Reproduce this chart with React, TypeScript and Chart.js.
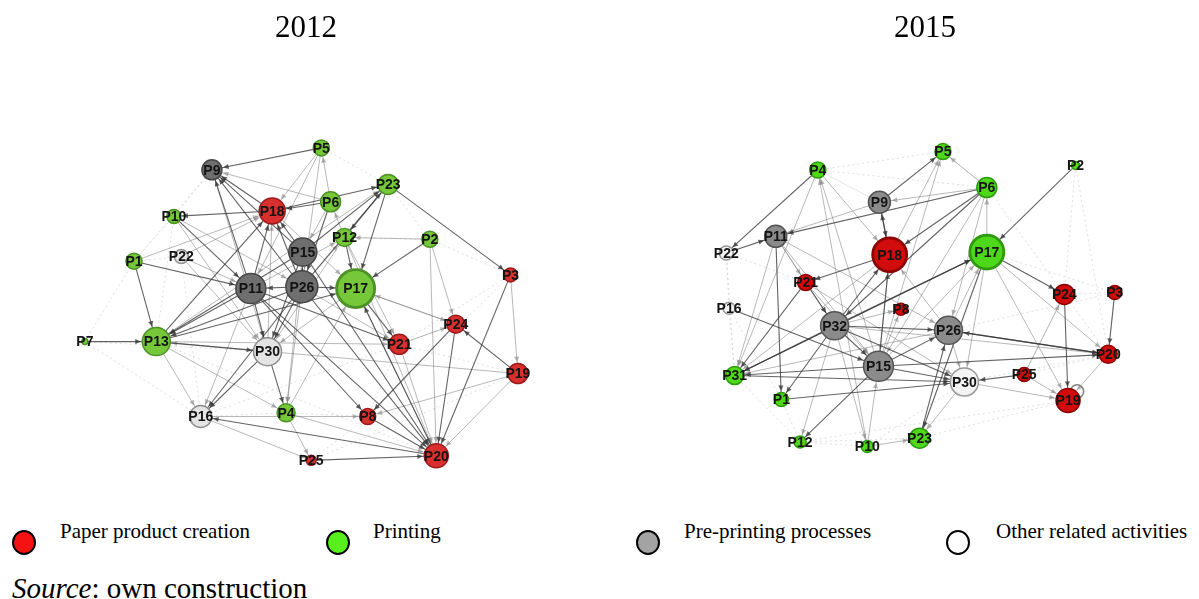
import React, { useEffect, useRef } from "react";
import { Chart, registerables } from "chart.js";

Chart.register(...registerables);

// ---- 2012 network ----
const ids2012 = ["P9", "P5", "P18", "P6", "P10", "P1", "P22", "P15", "P11", "P26", "P12", "P23", "P17", "P2", "P3", "P7", "P13", "P30", "P16", "P4", "P25", "P24", "P21", "P19", "P8", "P20"];
const posX2012 = [205, 323, 270, 333, 164, 121, 172, 303, 247, 302, 348, 395, 360, 440, 527, 68, 145, 265, 193, 285, 312, 468, 407, 535, 373, 447];
const posY2012 = [162, 138, 207, 197, 213, 262, 257, 252, 292, 290, 236, 178, 292, 238, 277, 350, 350, 361, 432, 428, 480, 331, 353, 385, 432, 475];
const size2012 = [10, 8, 13, 10, 7, 8, 7, 14, 15, 16, 9, 10, 19, 8, 7, 3, 14, 14, 11, 9, 5, 9, 10, 10, 8, 12];
const group2012 = ["pre", "print", "paper", "print", "print", "print", "other", "pre", "pre", "pre", "print", "print", "print", "print", "paper", "print", "print", "other", "other", "print", "paper", "paper", "paper", "paper", "paper", "paper"];

const strong2012: [string, string][] = [
  ["P5", "P9"], ["P18", "P9"], ["P11", "P9"], ["P26", "P9"], ["P15", "P9"], ["P18", "P10"],
  ["P10", "P11"], ["P1", "P11"], ["P11", "P18"], ["P26", "P18"], ["P15", "P18"], ["P6", "P18"],
  ["P13", "P18"], ["P18", "P23"], ["P6", "P26"], ["P23", "P17"], ["P26", "P23"], ["P15", "P23"],
  ["P23", "P3"], ["P12", "P17"], ["P26", "P15"], ["P26", "P11"], ["P26", "P17"], ["P11", "P30"],
  ["P26", "P30"], ["P15", "P30"], ["P11", "P21"], ["P26", "P20"], ["P11", "P20"], ["P11", "P8"],
  ["P17", "P21"], ["P20", "P17"], ["P3", "P20"], ["P19", "P24"], ["P24", "P8"], ["P24", "P20"],
  ["P7", "P13"], ["P13", "P30"], ["P30", "P16"], ["P26", "P16"], ["P11", "P13"], ["P26", "P13"],
  ["P1", "P13"], ["P25", "P20"], ["P8", "P20"], ["P30", "P4"], ["P15", "P13"], ["P2", "P17"],
  ["P15", "P20"], ["P23", "P12"], ["P13", "P17"], ["P20", "P16"],
];
const medium2012: [string, string][] = [
  ["P6", "P9"], ["P10", "P30"], ["P22", "P18"], ["P22", "P30"], ["P30", "P18"], ["P5", "P11"],
  ["P5", "P26"], ["P6", "P5"], ["P6", "P15"], ["P12", "P6"], ["P13", "P23"], ["P11", "P12"],
  ["P26", "P12"], ["P12", "P30"], ["P26", "P21"], ["P17", "P24"], ["P2", "P20"], ["P3", "P19"],
  ["P24", "P17"], ["P19", "P20"], ["P19", "P8"], ["P19", "P13"], ["P13", "P16"], ["P13", "P4"],
  ["P13", "P21"], ["P16", "P8"], ["P4", "P25"], ["P21", "P20"], ["P4", "P17"], ["P11", "P16"],
  ["P17", "P30"], ["P21", "P24"], ["P16", "P25"], ["P4", "P20"], ["P12", "P20"], ["P17", "P20"],
  ["P15", "P4"], ["P26", "P4"], ["P2", "P12"], ["P5", "P18"], ["P10", "P26"], ["P9", "P30"],
  ["P22", "P11"], ["P18", "P17"], ["P2", "P24"], ["P12", "P21"], ["P1", "P18"],
];
const faint2012: [string, string][] = [
  ["P1", "P10"], ["P7", "P1"], ["P10", "P13"], ["P9", "P10"], ["P2", "P3"], ["P16", "P4"],
  ["P25", "P8"], ["P7", "P16"], ["P1", "P22"], ["P13", "P20"], ["P19", "P21"], ["P4", "P8"],
  ["P16", "P21"], ["P22", "P16"], ["P12", "P2"], ["P5", "P23"], ["P3", "P21"], ["P24", "P21"],
  ["P9", "P1"], ["P7", "P30"], ["P23", "P2"], ["P8", "P21"], ["P3", "P8"], ["P19", "P25"],
];
const loops2012: string[] = [];

// ---- 2015 network ----
const ids2015 = ["P4", "P5", "P9", "P11", "P22", "P18", "P21", "P16", "P8", "P6", "P2", "P17", "P24", "P3", "P32", "P26", "P31", "P15", "P1", "P12", "P10", "P23", "P30", "P25", "P20", "P19"];
const posX2015 = [212, 346, 278, 167, 114, 289, 199, 117, 301, 393, 488, 393, 476, 530, 230, 352, 123, 277, 173, 193, 265, 321, 369, 433, 523, 480];
const posY2015 = [163, 143, 198, 235, 253, 255, 285, 313, 314, 182, 158, 252, 298, 296, 332, 337, 386, 376, 412, 458, 463, 454, 393, 385, 363, 413];
const size2015 = [8, 8, 11, 11, 7, 17, 8, 6, 6, 10, 4, 17, 10, 7, 14, 14, 9, 15, 7, 6, 6, 10, 14, 7, 9, 12];
const group2015 = ["print", "print", "pre", "pre", "other", "paper", "paper", "other", "paper", "print", "print", "print", "paper", "paper", "pre", "pre", "print", "pre", "print", "print", "print", "print", "other", "paper", "paper", "paper"];

const strong2015: [string, string][] = [
  ["P4", "P22"], ["P9", "P5"], ["P6", "P11"], ["P6", "P18"], ["P6", "P32"], ["P2", "P17"],
  ["P9", "P18"], ["P18", "P9"], ["P18", "P21"], ["P32", "P18"], ["P15", "P18"], ["P22", "P11"],
  ["P11", "P1"], ["P21", "P32"], ["P32", "P17"], ["P17", "P24"], ["P31", "P17"], ["P17", "P23"],
  ["P32", "P31"], ["P32", "P1"], ["P32", "P26"], ["P32", "P15"], ["P15", "P31"], ["P15", "P26"],
  ["P15", "P30"], ["P15", "P12"], ["P26", "P20"], ["P20", "P26"], ["P23", "P26"], ["P25", "P30"],
  ["P24", "P19"], ["P3", "P20"], ["P31", "P30"], ["P1", "P30"], ["P16", "P15"], ["P21", "P31"],
  ["P32", "P30"], ["P15", "P20"],
];
const medium2015: [string, string][] = [
  ["P4", "P18"], ["P10", "P4"], ["P15", "P4"], ["P18", "P5"], ["P15", "P5"], ["P6", "P5"],
  ["P6", "P9"], ["P6", "P26"], ["P17", "P6"], ["P9", "P11"], ["P26", "P18"], ["P18", "P31"],
  ["P11", "P21"], ["P11", "P31"], ["P11", "P15"], ["P21", "P15"], ["P15", "P17"], ["P26", "P17"],
  ["P17", "P20"], ["P17", "P19"], ["P32", "P12"], ["P32", "P10"], ["P32", "P8"], ["P32", "P20"],
  ["P15", "P8"], ["P10", "P15"], ["P26", "P30"], ["P26", "P31"], ["P30", "P19"], ["P25", "P24"],
  ["P20", "P19"], ["P10", "P23"], ["P30", "P23"], ["P18", "P15"], ["P11", "P26"], ["P4", "P31"],
  ["P21", "P30"], ["P17", "P31"], ["P17", "P30"], ["P25", "P19"], ["P11", "P32"], ["P6", "P15"],
];
const faint2015: [string, string][] = [
  ["P4", "P5"], ["P4", "P9"], ["P4", "P6"], ["P2", "P24"], ["P24", "P3"], ["P22", "P16"],
  ["P16", "P31"], ["P12", "P10"], ["P12", "P23"], ["P20", "P3"], ["P25", "P20"], ["P17", "P3"],
  ["P30", "P20"], ["P1", "P12"], ["P31", "P12"], ["P24", "P25"], ["P26", "P3"], ["P10", "P30"],
  ["P23", "P19"], ["P22", "P21"], ["P16", "P1"], ["P5", "P6"], ["P2", "P20"], ["P9", "P4"],
  ["P17", "P24"], ["P24", "P20"], ["P6", "P24"], ["P22", "P31"], ["P12", "P19"],
];
const loops2015: string[] = ["P19"];

type Palette = Record<string, { fill: string; border: string }>;

const palette2012: Palette = {
  paper: { fill: "#d8302e", border: "#9c1b1b" },
  print: { fill: "#76c83a", border: "#4c9226" },
  pre: { fill: "#6f6f6f", border: "#464646" },
  other: { fill: "#e4e4e4", border: "#8f8f8f" },
};
const palette2015: Palette = {
  paper: { fill: "#d20c0c", border: "#8c0202" },
  print: { fill: "#4ed81a", border: "#2e9a0d" },
  pre: { fill: "#8b8b8b", border: "#545454" },
  other: { fill: "#f3f3f3", border: "#9a9a9a" },
};

const edgeStyles = {
  strong: { color: "rgba(55,55,55,0.78)", width: 1.1, dash: [] as number[], order: 1, arrow: true },
  medium: { color: "rgba(125,125,125,0.55)", width: 1, dash: [] as number[], order: 2, arrow: true },
  faint: { color: "rgba(185,185,185,0.45)", width: 1, dash: [2, 3], order: 3, arrow: false },
};

const LABEL_FONT = 'bold 14px "Liberation Sans", Arial, sans-serif';
const SERIF = '"Liberation Serif", "Times New Roman", serif';

// Arrowheads on directed edges, drawn right after each edge line.
const arrowPlugin = {
  id: "arrowHeads",
  afterDatasetDraw(chart: any, args: any) {
    const ds = chart.data.datasets[args.index];
    if (!ds.edge || !ds.arrow) return;
    const pts = args.meta.data;
    if (!pts || pts.length < 2) return;
    const x0 = pts[0].x, y0 = pts[0].y, x1 = pts[1].x, y1 = pts[1].y;
    const len = Math.hypot(x1 - x0, y1 - y0);
    if (len < 1) return;
    const ux = (x1 - x0) / len, uy = (y1 - y0) / len;
    const tipX = x1 - ux * ds.targetRadius, tipY = y1 - uy * ds.targetRadius;
    const L = 5.5, W = 2.6;
    const ctx = chart.ctx;
    ctx.save();
    ctx.fillStyle = ds.borderColor;
    ctx.beginPath();
    ctx.moveTo(tipX, tipY);
    ctx.lineTo(tipX - ux * L - uy * W, tipY - uy * L + ux * W);
    ctx.lineTo(tipX - ux * L + uy * W, tipY - uy * L - ux * W);
    ctx.closePath();
    ctx.fill();
    ctx.restore();
  },
};

// Self-loops and node labels.
const nodeDecorPlugin = {
  id: "nodeDecor",
  beforeDatasetsDraw(chart: any) {
    const cfg = chart.options.plugins.nodeDecor;
    if (!cfg) return;
    const ctx = chart.ctx;
    const xs = chart.scales.x, ys = chart.scales.y;
    ctx.save();
    ctx.strokeStyle = "rgba(120,120,120,0.9)";
    ctx.lineWidth = 1.6;
    cfg.loops.forEach((id: string) => {
      const i = cfg.ids.indexOf(id);
      if (i < 0) return;
      const r = cfg.sizes[i];
      const cx = xs.getPixelForValue(cfg.xs[i]) + r * 0.75;
      const cy = ys.getPixelForValue(cfg.ys[i]) - r * 0.75;
      ctx.beginPath();
      ctx.arc(cx, cy, r * 0.55, 0, Math.PI * 2);
      ctx.stroke();
    });
    ctx.restore();
  },
  afterDatasetsDraw(chart: any) {
    const cfg = chart.options.plugins.nodeDecor;
    if (!cfg) return;
    const idx = chart.data.datasets.findIndex((d: any) => d.nodes);
    if (idx < 0) return;
    const meta = chart.getDatasetMeta(idx);
    const ctx = chart.ctx;
    ctx.save();
    ctx.font = LABEL_FONT;
    ctx.textAlign = "center";
    ctx.textBaseline = "middle";
    ctx.fillStyle = "#141414";
    meta.data.forEach((el: any, i: number) => {
      ctx.fillText(cfg.ids[i], el.x, el.y + 1);
    });
    ctx.restore();
  },
};

type PanelProps = {
  ids: string[];
  xs: number[];
  ys: number[];
  sizes: number[];
  groups: string[];
  strong: [string, string][];
  medium: [string, string][];
  faint: [string, string][];
  loops: string[];
  palette: Palette;
  width: number;
  height: number;
  left: number;
};

function NetworkPanel(p: PanelProps) {
  const ref = useRef<HTMLCanvasElement | null>(null);

  useEffect(() => {
    if (!ref.current) return;
    const where = new Map(p.ids.map((id, i) => [id, i]));
    const pt = (id: string) => {
      const i = where.get(id)!;
      return { x: p.xs[i], y: p.ys[i] };
    };
    const edges = (list: [string, string][], style: typeof edgeStyles.strong) =>
      list.map(([a, b]) => ({
        data: [pt(a), pt(b)],
        showLine: true,
        borderColor: style.color,
        borderWidth: style.width,
        borderDash: style.dash,
        pointRadius: 0,
        pointHoverRadius: 0,
        order: style.order,
        edge: true,
        arrow: style.arrow,
        targetRadius: p.sizes[where.get(b)!] + 1.5,
      }));

    const nodes = {
      nodes: true,
      data: p.ids.map((id) => pt(id)),
      pointRadius: p.sizes,
      pointHoverRadius: p.sizes,
      pointBackgroundColor: p.groups.map((g) => p.palette[g].fill),
      pointBorderColor: p.groups.map((g) => p.palette[g].border),
      pointBorderWidth: p.sizes.map((s) => (s >= 17 ? 2.8 : 1.5)),
      order: 0,
    };

    const chart = new Chart(ref.current, {
      type: "scatter",
      data: {
        datasets: [
          nodes as any,
          ...edges(p.strong, edgeStyles.strong),
          ...edges(p.medium, edgeStyles.medium),
          ...edges(p.faint, edgeStyles.faint),
        ],
      },
      options: {
        responsive: false,
        animation: false,
        devicePixelRatio: 1,
        events: [],
        layout: { padding: 0 },
        scales: {
          x: { type: "linear", min: 0, max: p.width, display: false },
          y: { type: "linear", min: 0, max: p.height, reverse: true, display: false },
        },
        plugins: {
          legend: { display: false },
          tooltip: { enabled: false },
          nodeDecor: { ids: p.ids, xs: p.xs, ys: p.ys, sizes: p.sizes, loops: p.loops },
        } as any,
      },
      plugins: [arrowPlugin, nodeDecorPlugin],
    });
    return () => chart.destroy();
  }, []);

  return (
    <canvas
      ref={ref}
      width={p.width}
      height={p.height}
      style={{ position: "absolute", left: p.left, top: 0, width: p.width, height: p.height }}
    />
  );
}

const legendItems = [
  { label: "Paper product creation", fill: "#f41212", cx: 24, textX: 60 },
  { label: "Printing", fill: "#58f01c", cx: 338, textX: 373 },
  { label: "Pre-printing processes", fill: "#a3a3a3", cx: 648, textX: 684 },
  { label: "Other related activities", fill: "#ffffff", cx: 958, textX: 996 },
];

const titles = [
  { text: "2012", cx: 306 },
  { text: "2015", cx: 925 },
];

export default function App() {
  return (
    <div
      style={{
        position: "fixed",
        left: 0,
        top: 0,
        width: 1199,
        height: 599,
        background: "#ffffff",
        overflow: "hidden",
        fontFamily: SERIF,
        color: "#000",
      }}
    >
      {titles.map((t) => (
        <div
          key={t.text}
          style={{
            position: "absolute",
            left: t.cx,
            top: 11,
            transform: "translateX(-50%)",
            fontSize: 31,
            lineHeight: "31px",
            whiteSpace: "nowrap",
            zIndex: 2,
          }}
        >
          {t.text}
        </div>
      ))}
      <NetworkPanel
        ids={ids2012}
        xs={posX2012}
        ys={posY2012}
        sizes={size2012}
        groups={group2012}
        strong={strong2012}
        medium={medium2012}
        faint={faint2012}
        loops={loops2012}
        palette={palette2012}
        width={600}
        height={505}
        left={0}
      />
      <NetworkPanel
        ids={ids2015}
        xs={posX2015}
        ys={posY2015}
        sizes={size2015}
        groups={group2015}
        strong={strong2015}
        medium={medium2015}
        faint={faint2015}
        loops={loops2015}
        palette={palette2015}
        width={599}
        height={505}
        left={600}
      />
      {legendItems.map((it) => (
        <React.Fragment key={it.label}>
          <div
            style={{
              position: "absolute",
              left: it.cx - 12,
              top: 530,
              width: 20,
              height: 21,
              borderRadius: "50%",
              border: "2px solid #000",
              background: it.fill,
            }}
          />
          <div
            style={{
              position: "absolute",
              left: it.textX,
              top: 521,
              fontSize: 21,
              lineHeight: "21px",
              whiteSpace: "nowrap",
            }}
          >
            {it.label}
          </div>
        </React.Fragment>
      ))}
      <div
        style={{
          position: "absolute",
          left: 12,
          top: 574,
          fontSize: 29,
          lineHeight: "29px",
          whiteSpace: "nowrap",
        }}
      >
        <i>Source</i>: own construction
      </div>
    </div>
  );
}
